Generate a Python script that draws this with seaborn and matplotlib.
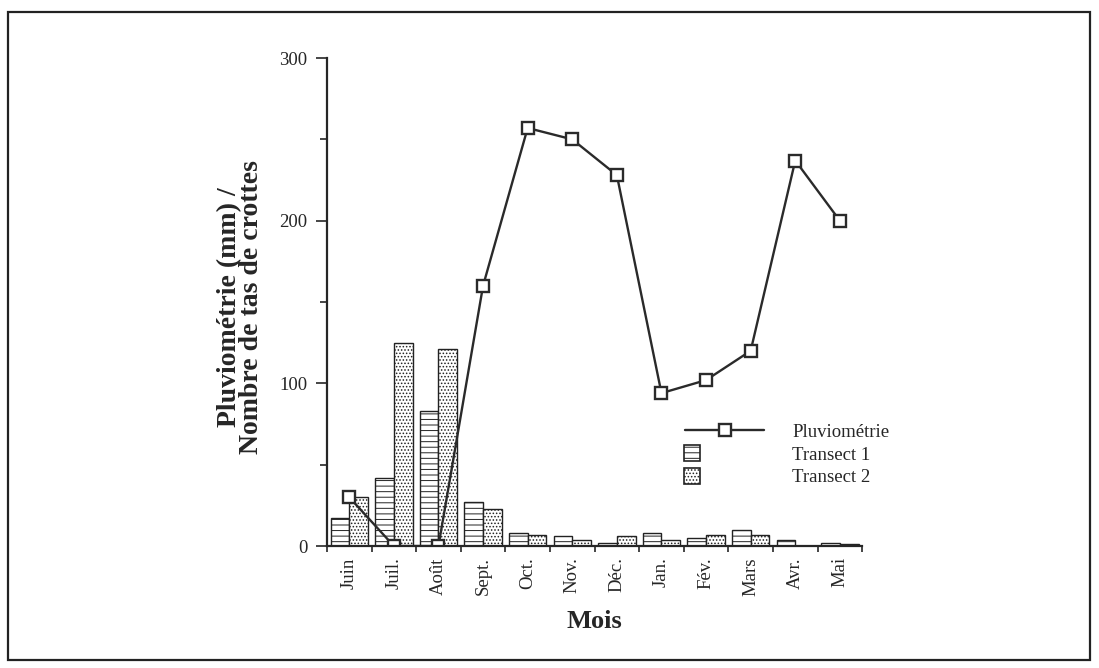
import numpy as np
import pandas as pd
import matplotlib
matplotlib.use('Agg')
import matplotlib.pyplot as plt
import matplotlib.patches as mpatches
from matplotlib.lines import Line2D
from matplotlib.legend_handler import HandlerPatch
import seaborn as sns

# values
mois = ['Juin', 'Juil.', 'Août', 'Sept.', 'Oct.', 'Nov.', 'Déc.', 'Jan.', 'Fév.', 'Mars', 'Avr.', 'Mai']
pluvio = [30, 0, 0, 160, 257, 250, 228, 94, 102, 120, 237, 200]
transect1 = [17, 42, 83, 27, 8, 6, 2, 8, 5, 10, 4, 2]
transect2 = [30, 125, 121, 23, 7, 4, 6, 4, 7, 7, 0, 1]

sns.set_style('ticks')
plt.rcParams['font.family'] = ['Liberation Serif', 'DejaVu Serif']
plt.rcParams['hatch.linewidth'] = 0.7

df = pd.DataFrame({
    'Mois': mois * 2,
    'Nombre': transect1 + transect2,
    'Transect': ['Transect 1'] * 12 + ['Transect 2'] * 12,
})

fig = plt.figure(figsize=(10.99, 6.68), dpi=100)
ax = fig.add_axes([0.2975, 0.1826, 0.487, 0.7305])

sns.barplot(data=df, x='Mois', y='Nombre', hue='Transect', order=mois,
            palette=['white', 'white'], edgecolor='#222222', linewidth=1.0,
            width=0.84, ax=ax, legend=False)
n = len(mois)
for i, bar in enumerate(ax.patches[:2 * n]):
    bar.set_hatch('---' if i < n else '.....')

# rainfall line on top of the bars
sns.pointplot(x=mois, y=pluvio, order=mois, color='#2a2a2a', markers='s',
              linestyles='-', ax=ax, markersize=8, linewidth=1.7,
              markerfacecolor='white', markeredgewidth=1.7, markeredgecolor='#2a2a2a')

ax.set_xlim(-0.5, 11.5)
ax.set_ylim(0, 300)
ax.set_yticks([0, 100, 200, 300])
ax.set_yticks([50, 150, 250], minor=True)
ax.tick_params(axis='y', which='major', length=8, width=1.2, labelsize=13.5, pad=6)
ax.tick_params(axis='y', which='minor', length=5, width=1.2)
ax.set_xticks(np.arange(-0.5, 12, 1), minor=True)
ax.tick_params(axis='x', which='major', length=0, labelsize=13.5, pad=8, labelrotation=90)
ax.tick_params(axis='x', which='minor', length=4, width=1.2)
for s in ['top', 'right']:
    ax.spines[s].set_visible(False)
ax.spines['left'].set_linewidth(1.6)
ax.spines['bottom'].set_linewidth(1.6)

ax.set_xlabel('Mois', fontsize=19, fontweight='bold', labelpad=10)
ax.set_ylabel('Pluviométrie (mm) /\nNombre de tas de crottes', fontsize=20,
              fontweight='bold', linespacing=0.8)
ax.yaxis.set_label_coords(-0.118, 0.49)


def small_square(legend, orig_handle, xdescent, ydescent, width, height, fontsize):
    size = height * 1.25
    return mpatches.Rectangle((-xdescent - 0.02 * width, -ydescent - 0.12 * height), size, size)


handles = [
    Line2D([], [], color='#2a2a2a', lw=1.7, marker='s', markersize=8,
           markerfacecolor='white', markeredgewidth=1.7),
    mpatches.Patch(facecolor='white', edgecolor='#222222', hatch='---', lw=1.2),
    mpatches.Patch(facecolor='white', edgecolor='#222222', hatch='.....', lw=1.2),
]
ax.legend(handles, ['Pluviométrie', 'Transect 1', 'Transect 2'],
          loc='upper left', bbox_to_anchor=(0.638, 0.285), frameon=False,
          fontsize=13.5, handlelength=4.2, handletextpad=1.5, labelspacing=0.3,
          handler_map={mpatches.Patch: HandlerPatch(patch_func=small_square)})

fig.patches.append(mpatches.Rectangle((8 / 1099, 1 - 660 / 668), 1082 / 1099, 648 / 668,
                                      transform=fig.transFigure, fill=False,
                                      edgecolor='#222222', linewidth=1.6))

fig.savefig('out.png', dpi=100)
